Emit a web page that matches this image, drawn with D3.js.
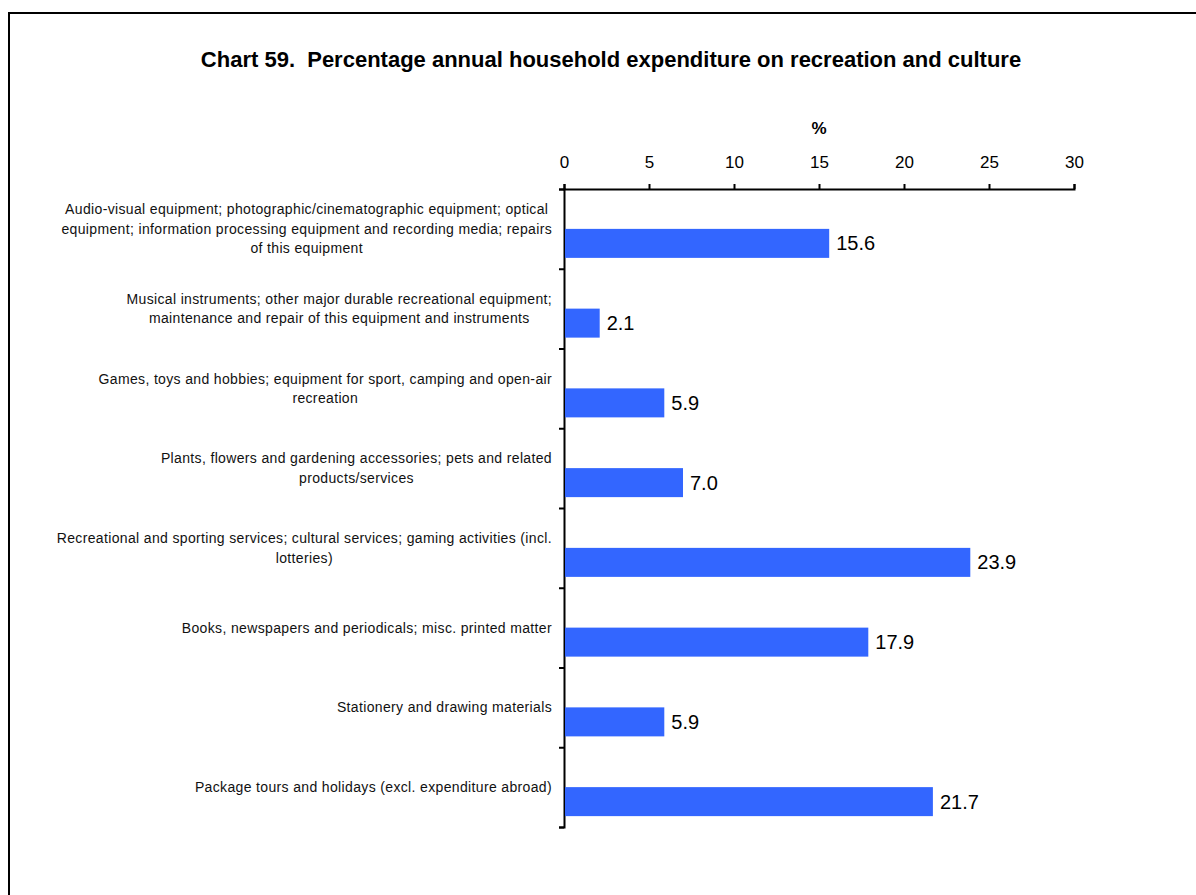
<!DOCTYPE html>
<html>
<head>
<meta charset="utf-8">
<script src="https://cdn.jsdelivr.net/npm/d3@7"></script>
<style>
  body { margin: 0; background: #fff; }
  svg { display: block; font-family: "Liberation Sans", Arial, sans-serif; }
</style>
</head>
<body>
<div id="chart-area"></div>
<script>
// categories (one label line per entry)
var categories = [
	["Audio-visual equipment; photographic/cinematographic equipment; optical",
	 "equipment; information processing equipment and recording media; repairs",
	 "of this equipment"],
	["Musical instruments; other major durable recreational equipment;",
	 "maintenance and repair of this equipment and instruments"],
	["Games, toys and hobbies; equipment for sport, camping and open-air",
	 "recreation"],
	["Plants, flowers and gardening accessories; pets and related",
	 "products/services"],
	["Recreational and sporting services; cultural services; gaming activities (incl.",
	 "lotteries)"],
	["Books, newspapers and periodicals; misc. printed matter"],
	["Stationery and drawing materials"],
	["Package tours and holidays (excl. expenditure abroad)"]
];
var values = [15.6, 2.1, 5.9, 7.0, 23.9, 17.9, 5.9, 21.7];
var xTicks = [0, 5, 10, 15, 20, 25, 30];

var title = "Chart 59.  Percentage annual household expenditure on recreation and culture";

var W = 1196, H = 895;
var svg = d3.select("#chart-area")
			.append("svg")
			.attr("width", W)
			.attr("height", H);

// frame (runs off the right and bottom edges)
svg.append("rect")
	.attr("x", 9).attr("y", 13)
	.attr("width", 1300).attr("height", 1000)
	.attr("fill", "none")
	.attr("stroke", "#000")
	.attr("stroke-width", 2);

svg.append("text")
	.attr("x", 611).attr("y", 67)
	.attr("text-anchor", "middle")
	.attr("font-weight", "bold")
	.attr("font-size", "22px")
	.style("white-space", "pre")
	.text(title);

var plotL = 564, plotR = 1074, plotT = 189, plotB = 827;

var x = d3.scaleLinear().domain([0, 30]).range([plotL, plotR]);
var idx = d3.range(categories.length);
var y = d3.scaleBand().domain(idx).range([plotT, plotB]);

// x axis on top
var xAxis = svg.append("g")
	.attr("transform", "translate(0," + plotT + ")")
	.call(d3.axisTop(x).tickValues(xTicks).tickSize(5).tickPadding(16).tickFormat(d3.format("d")));
xAxis.selectAll("text").attr("font-size", "17px").attr("fill", "#000").attr("font-family", null);
xAxis.selectAll("line, path").attr("stroke", "#000").attr("stroke-width", 2);

svg.append("text")
	.attr("x", (plotL + plotR) / 2).attr("y", 134)
	.attr("text-anchor", "middle")
	.attr("font-weight", "bold")
	.attr("font-size", "17px")
	.text("%");

// y axis with ticks on band boundaries
var yb = d3.scaleLinear().domain([0, categories.length]).range([plotT, plotB]);
var yAxis = svg.append("g")
	.attr("transform", "translate(" + plotL + ",0)")
	.call(d3.axisLeft(yb).ticks(categories.length).tickSize(5).tickSizeOuter(5).tickFormat(""));
yAxis.selectAll("line, path").attr("stroke", "#000").attr("stroke-width", 2);

// bars: start at band centre
var barH = 29;
svg.selectAll("rect.bar")
	.data(values)
	.enter()
	.append("rect")
	.attr("class", "bar")
	.attr("x", x(0) + 1)
	.attr("y", function(d, i){ return y(i) + y.bandwidth() / 2; })
	.attr("width", function(d){ return x(d) - x(0) - 1; })
	.attr("height", barH)
	.attr("fill", "#3366FF");

svg.selectAll("text.val")
	.data(values)
	.enter()
	.append("text")
	.attr("class", "val")
	.attr("x", function(d){ return x(d) + 7; })
	.attr("y", function(d, i){ return y(i) + y.bandwidth() / 2 + barH / 2; })
	.attr("dy", "0.35em")
	.attr("font-size", "20px")
	.text(function(d){ return d.toFixed(1); });

// category labels: centred block, right edge at 552, centred on band centre
var lineH = 19.5;
categories.forEach(function(lines, i){
	var g = svg.append("g");
	var cy = y(i) + y.bandwidth() / 2;
	var t = g.selectAll("text")
		.data(lines)
		.enter()
		.append("text")
		.attr("font-size", "14px")
		.attr("letter-spacing", "0.35px")
		.attr("fill", "#111")
		.attr("text-anchor", "middle")
		.attr("y", function(d, j){ return cy + (j - (lines.length - 1) / 2) * lineH; })
		.attr("dy", "0.35em")
		.text(function(d){ return d; });
	var w = 0;
	t.each(function(){ w = Math.max(w, this.getComputedTextLength()); });
	t.attr("x", 552 - w / 2);
});
</script>
</body>
</html>
